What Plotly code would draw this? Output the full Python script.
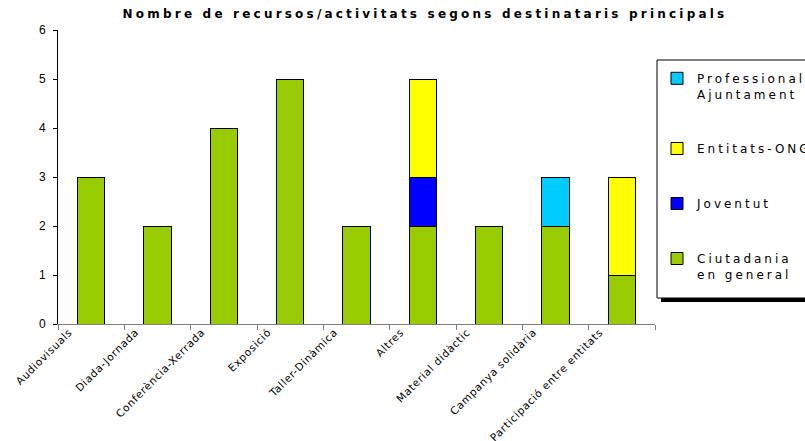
import plotly.graph_objects as go

categories = ["Audiovisuals", "Diada-Jornada", "Conferència-Xerrada", "Exposició",
              "Taller-Dinàmica", "Altres", "Material didàctic", "Campanya solidària",
              "Participació entre entitats"]
ciutadania = [3, 2, 4, 5, 2, 2, 2, 2, 1]
joventut = [0, 0, 0, 0, 0, 1, 0, 0, 0]
entitats = [0, 0, 0, 0, 0, 2, 0, 0, 2]
professionals = [0, 0, 0, 0, 0, 0, 0, 1, 0]
y_ticks = [0, 1, 2, 3, 4, 5, 6]

# (legend name, values, colour, legend rank) in stacking order bottom -> top
series = [
    ("Ciutadania<br>en general", ciutadania, "#99CC00", 4),
    ("Joventut", joventut, "#0000FF", 3),
    ("Entitats-ONG", entitats, "#FFFF00", 2),
    ("Professionals<br>Ajuntament", professionals, "#00CCFF", 1),
]

# plot area in page px: x 58..655, y 30..324 (body margin removed via CSS)
PL, PR, PT, PB = 58, 655, 30, 324
W, H = 805, 441


def px(xp):
    return (xp - PL) / (PR - PL)


def py(yp):
    return (PB - yp) / (PB - PT)


xs = list(range(len(categories)))
fig = go.Figure()
for name, vals, col, rank in series:
    fig.add_trace(go.Bar(
        x=xs, y=vals, name=name, legendgroup=name, legendrank=rank,
        marker=dict(color=col, line=dict(color="black", width=1)),
        width=0.41,
    ))

font_fam = "DejaVu Sans"
fig.update_layout(
    width=W, height=H,
    barmode="stack",
    plot_bgcolor="white", paper_bgcolor="white",
    margin=dict(l=PL, r=W - PR, t=PT, b=H - PB, autoexpand=False),
    title=dict(text="<b>Nombre de recursos/activitats segons destinataris principals</b>",
               x=425 / W, xanchor="center", y=1 - 14 / H, yanchor="middle",
               font=dict(family=font_fam, size=12, color="black")),
    xaxis=dict(
        range=[-0.5, len(categories) - 0.5],
        tickmode="array",
        tickvals=xs,
        ticktext=categories,
        tickangle=-45,
        ticks="",
        ticklabelshift=-22,
        ticklabelstandoff=-3,
        showline=True, linecolor="#808080", linewidth=1,
        showgrid=False, zeroline=False,
        tickfont=dict(family=font_fam, size=10.5, color="black"),
        minor=dict(tickmode="array",
                   tickvals=[i - 0.5 for i in range(len(categories) + 1)],
                   ticks="outside", ticklen=5, tickcolor="#808080", showgrid=False),
    ),
    yaxis=dict(
        range=[0, 6], tickvals=y_ticks,
        ticks="outside", ticklen=4, tickcolor="black",
        ticklabelstandoff=5,
        showline=True, linecolor="black", linewidth=1,
        showgrid=False, zeroline=False,
        tickfont=dict(family="Liberation Sans", size=12, color="black"),
    ),
    legend=dict(
        x=px(657), xanchor="left", y=py(64), yanchor="top",
        traceorder="grouped", tracegroupgap=36, valign="top",
        borderwidth=0, bgcolor="rgba(0,0,0,0)",
        font=dict(family=font_fam, size=12, color="black"),
        itemwidth=30,
    ),
    showlegend=True,
)

# legend shadow and frame
fig.add_shape(type="rect", xref="paper", yref="paper",
              x0=px(661), x1=px(830), y0=py(302), y1=py(64),
              fillcolor="black", line=dict(width=0), layer="above")
fig.add_shape(type="rect", xref="paper", yref="paper",
              x0=px(657), x1=px(826), y0=py(298), y1=py(60),
              fillcolor="white", line=dict(color="black", width=1), layer="above")

page_css = ("var s=document.createElement('style');"
            "s.textContent='html,body{margin:0;padding:0;overflow:hidden}"
            ".gtitle{letter-spacing:3.2px}"
            ".legendtext{letter-spacing:3px}"
            ".legend g{clip-path:none !important}"
            ".xtick text{letter-spacing:0.7px}';"
            "document.head.appendChild(s);")

fig.write_html("out.html", post_script=page_css,
               config={"displayModeBar": False, "staticPlot": True})
